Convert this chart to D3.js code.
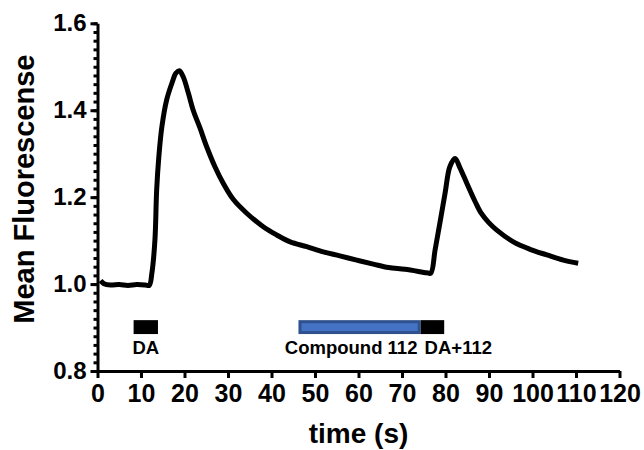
<!DOCTYPE html>
<html>
<head>
<meta charset="utf-8">
<script src="https://cdnjs.cloudflare.com/ajax/libs/d3/7.8.5/d3.min.js"></script>
<style>
  body { margin: 0; background: #fff; }
  svg { display: block; font-family: "Liberation Sans", Arial, sans-serif; font-weight: bold; }
  .axis path, .axis line { stroke: #000; stroke-width: 3; }
  .axis text { font-size: 24px; font-weight: bold; fill: #000; }
</style>
</head>
<body>
<div id="chart"></div>
<script>

var width = 644;
var height = 450;
var margin = {top: 23.3, right: 24.5, bottom: 79, left: 97.5};

// trace (time in s, mean fluorescence)
var time  = [0.7, 1.5, 3, 5, 7, 9, 11, 11.9, 12.5, 13.2, 13.6, 14.1, 14.8, 15.9, 17.1, 18.0, 18.8,
             19.7, 20.9, 22.0, 23.6, 25.1, 27.0, 28.9, 31.2, 34.3, 38.1, 41.2, 44.3, 48.1, 51.9,
             55.7, 59.6, 63.4, 66.9, 70.7, 75.7, 76.6, 77.6, 78.7, 79.9, 81.0, 82.2, 83.3, 84.9,
             86.8, 88.2, 89.9, 91.8, 95.6, 99.4, 103.3, 107.1, 110.5];
var fluor = [1.008, 1.001, 0.998, 0.999, 0.997, 0.999, 0.998, 0.997, 1.025, 1.101, 1.216, 1.293, 1.362, 1.424, 1.462, 1.485, 1.491,
             1.477, 1.439, 1.400, 1.358, 1.316, 1.270, 1.232, 1.195, 1.163, 1.132, 1.113, 1.097, 1.086, 1.074,
             1.065, 1.055, 1.046, 1.038, 1.034, 1.026, 1.025, 1.078, 1.140, 1.209, 1.270, 1.289, 1.268, 1.232,
             1.190, 1.163, 1.142, 1.124, 1.097, 1.080, 1.067, 1.055, 1.048];

var xTicks = [0, 10, 20, 30, 40, 50, 60, 70, 80, 90, 100, 110, 120];
var yTicks = [0.8, 1.0, 1.2, 1.4, 1.6];

// treatment bars
var barNames = ["DA", "Compound 112", "DA+112"];
var barStart = [8.3, 46.2, 74.3];
var barEnd   = [13.9, 74.3, 79.7];

var bars = barNames.map(function(d, i) {
  return {name: d, start: barStart[i], end: barEnd[i]};
});
var trace = time.map(function(d, i) { return {t: d, v: fluor[i]}; });

var svg = d3.select("#chart").append("svg")
  .attr("width", width)
  .attr("height", height);

var x = d3.scaleLinear().domain([0, 120]).range([margin.left, width - margin.right]);
var y = d3.scaleLinear().domain([0.8, 1.6]).range([height - margin.bottom, margin.top]);

// minor y ticks every 0.02
var minor = d3.range(0, 41).map(function(i) { return +(0.8 + i * 0.02).toFixed(2); });
svg.append("g")
  .attr("class", "axis")
  .attr("transform", "translate(" + margin.left + ",0)")
  .call(d3.axisLeft(y).tickValues(minor).tickSize(4).tickFormat(""))
  .call(function(g) { g.selectAll("line").attr("stroke-width", 2.5); g.select(".domain").remove(); });

svg.append("g")
  .attr("class", "axis")
  .attr("transform", "translate(" + margin.left + ",0)")
  .call(d3.axisLeft(y).tickValues(yTicks).tickSize(7).tickSizeOuter(0).tickPadding(4).tickFormat(d3.format(".1f")));

svg.append("g")
  .attr("class", "axis")
  .attr("transform", "translate(0," + (height - margin.bottom) + ")")
  .call(d3.axisBottom(x).tickValues(xTicks).tickSize(7).tickSizeOuter(0).tickPadding(6))
  .selectAll("text").style("font-size", "25px");

// the trace
var line = d3.line()
  .x(function(d) { return x(d.t); })
  .y(function(d) { return y(d.v); })
  .curve(d3.curveCatmullRom.alpha(0.5));

svg.append("path")
  .datum(trace)
  .attr("fill", "none")
  .attr("stroke", "#000")
  .attr("stroke-width", 5)
  .attr("stroke-linejoin", "round")
  .attr("d", line);

// bars under the trace
var barTop = 0.917, barBottom = 0.885;
svg.selectAll(".tbar")
  .data(bars)
  .enter().append("rect")
  .attr("class", "tbar")
  .attr("x", function(d) { return x(d.start) + (d.name == "Compound 112" ? 1.5 : 0); })
  .attr("y", function(d) { return y(barTop) + (d.name == "Compound 112" ? 1.5 : 0); })
  .attr("width", function(d) { return x(d.end) - x(d.start) - (d.name == "Compound 112" ? 3 : 0); })
  .attr("height", function(d) { return y(barBottom) - y(barTop) - (d.name == "Compound 112" ? 3 : 0); })
  .attr("fill", function(d) { return d.name == "Compound 112" ? "#4472C4" : "#000"; })
  .attr("stroke", function(d) { return d.name == "Compound 112" ? "#2F528F" : "none"; })
  .attr("stroke-width", 3);

svg.selectAll(".tlabel")
  .data(bars)
  .enter().append("text")
  .attr("class", "tlabel")
  .attr("x", function(d) {
    if (d.name == "DA") return x((d.start + d.end) / 2);
    if (d.name == "Compound 112") return x(d.end - 0.75);
    return x(d.start + 0.9);
  })
  .attr("y", 354)
  .attr("text-anchor", function(d) {
    if (d.name == "DA") return "middle";
    if (d.name == "Compound 112") return "end";
    return "start";
  })
  .style("font-size", "18.5px")
  .text(function(d) { return d.name; });

// axis titles
svg.append("text")
  .attr("transform", "translate(34," + ((margin.top + height - margin.bottom) / 2 - 8) + ") rotate(-90)")
  .attr("text-anchor", "middle")
  .style("font-size", "29px")
  .text("Mean Fluorescense");

svg.append("text")
  .attr("x", (margin.left + width - margin.right) / 2)
  .attr("y", 443)
  .attr("text-anchor", "middle")
  .style("font-size", "28px")
  .text("time (s)");

</script>
</body>
</html>
